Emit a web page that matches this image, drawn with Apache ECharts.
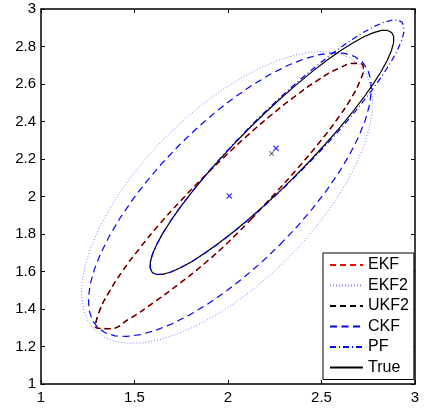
<!DOCTYPE html>
<html>
<head>
<meta charset="utf-8">
<script src="https://cdn.jsdelivr.net/npm/echarts@6/dist/echarts.min.js"></script>
<style>
  html, body { margin: 0; padding: 0; background: #fff; }
  #chart-container { width: 424px; height: 408px; }
</style>
</head>
<body>
<div id="chart-container"></div>
<script>
var dom = document.getElementById("chart-container");
var myChart = echarts.init(dom, null, { renderer: "canvas" });

// axis ranges / ticks
var xRange = [1, 3];
var xStep = 0.5;
var yRange = [1, 3];
var yStep = 0.2;

var legendNames = ["EKF", "EKF2", "UKF2", "CKF", "PF", "True"];

// contours, [x, y]
// EKF and UKF2 lie on top of each other
var ekfUkf2 = [
  [2.1225, 1.8775], [2.243, 2.007], [2.371, 2.149], [2.49, 2.29], [2.598, 2.432],
  [2.665, 2.535], [2.705, 2.615], [2.724, 2.683], [2.712, 2.708], [2.68, 2.71],
  [2.595, 2.685], [2.48, 2.62], [2.351, 2.529], [2.228, 2.432], [2.1045, 2.3255],
  [1.9845, 2.2155], [1.863, 2.097], [1.745, 1.975], [1.631, 1.849], [1.527, 1.723],
  [1.4325, 1.5975], [1.3625, 1.4875], [1.315, 1.395], [1.29, 1.305], [1.365, 1.295],
  [1.4725, 1.3475], [1.61, 1.44], [1.7425, 1.5375], [1.876, 1.644], [2.0025, 1.7575],
  [2.1225, 1.8775]
];

var ekf2 = [
  [2.32, 1.67], [2.4095, 1.7651], [2.492, 1.8642], [2.5661, 1.9655], [2.6303, 2.0673],
  [2.6836, 2.1678], [2.7251, 2.2655], [2.7542, 2.3584], [2.7702, 2.4452], [2.7731, 2.5243],
  [2.7625, 2.5943], [2.7388, 2.654], [2.7025, 2.7025], [2.654, 2.7388], [2.5943, 2.7625],
  [2.5243, 2.7731], [2.4452, 2.7702], [2.3584, 2.7542], [2.2655, 2.7251], [2.1678, 2.6836],
  [2.0673, 2.6303], [1.9655, 2.5661], [1.8642, 2.492], [1.7651, 2.4095], [1.67, 2.32],
  [1.5805, 2.2249], [1.498, 2.1258], [1.4239, 2.0245], [1.3597, 1.9227], [1.3064, 1.8222],
  [1.2649, 1.7245], [1.2358, 1.6316], [1.2198, 1.5448], [1.2169, 1.4657], [1.2275, 1.3957],
  [1.2512, 1.336], [1.2875, 1.2875], [1.336, 1.2512], [1.3957, 1.2275], [1.4657, 1.2169],
  [1.5448, 1.2198], [1.6316, 1.2358], [1.7245, 1.2649], [1.8222, 1.3064], [1.9227, 1.3597],
  [2.0245, 1.4239], [2.1258, 1.498], [2.2249, 1.5805], [2.32, 1.67]
];

var ckf = [
  [2.2775, 1.7425], [2.3676, 1.8372], [2.4516, 1.9348], [2.5281, 2.0339], [2.5957, 2.1323],
  [2.6532, 2.2288], [2.6998, 2.3214], [2.7346, 2.4088], [2.7569, 2.4893], [2.7665, 2.5617],
  [2.7631, 2.6247], [2.7468, 2.677], [2.718, 2.718], [2.677, 2.7468], [2.6247, 2.7631],
  [2.5617, 2.7665], [2.4893, 2.7569], [2.4088, 2.7346], [2.3214, 2.6998], [2.2288, 2.6532],
  [2.1323, 2.5957], [2.0339, 2.5281], [1.9348, 2.4516], [1.8372, 2.3676], [1.7425, 2.2775],
  [1.6524, 2.1828], [1.5684, 2.0852], [1.4919, 1.9861], [1.4243, 1.8877], [1.3668, 1.7912],
  [1.3202, 1.6986], [1.2854, 1.6112], [1.2631, 1.5307], [1.2535, 1.4583], [1.2569, 1.3953],
  [1.2732, 1.343], [1.302, 1.302], [1.343, 1.2732], [1.3953, 1.2569], [1.4583, 1.2535],
  [1.5307, 1.2631], [1.6112, 1.2854], [1.6986, 1.3202], [1.7912, 1.3668], [1.8877, 1.4243],
  [1.9861, 1.4919], [2.0852, 1.5684], [2.1828, 1.6524], [2.2775, 1.7425]
];

var pf = [
  [2.39, 2.135], [2.476, 2.2232], [2.5584, 2.312], [2.6358, 2.4002], [2.7067, 2.4859],
  [2.7701, 2.5677], [2.8247, 2.6443], [2.8697, 2.7145], [2.9044, 2.7768], [2.928, 2.8304],
  [2.9402, 2.8742], [2.9409, 2.9077], [2.93, 2.93], [2.9077, 2.9409], [2.8742, 2.9402],
  [2.8304, 2.928], [2.7768, 2.9044], [2.7145, 2.8697], [2.6443, 2.8247], [2.5677, 2.7701],
  [2.4859, 2.7067], [2.4002, 2.6358], [2.312, 2.5584], [2.2232, 2.476], [2.135, 2.39],
  [2.049, 2.3018], [1.9666, 2.213], [1.8892, 2.1248], [1.8183, 2.0391], [1.7549, 1.9573],
  [1.7003, 1.8807], [1.6553, 1.8105], [1.6206, 1.7482], [1.597, 1.6946], [1.5848, 1.6508],
  [1.5841, 1.6173], [1.595, 1.595], [1.6173, 1.5841], [1.6508, 1.5848], [1.6946, 1.597],
  [1.7482, 1.6206], [1.8105, 1.6553], [1.8807, 1.7003], [1.9573, 1.7549], [2.0391, 1.8183],
  [2.1248, 1.8892], [2.213, 1.9666], [2.3018, 2.049], [2.39, 2.135]
];

var trueCurve = [
  [2.36, 2.11], [2.4424, 2.1946], [2.5213, 2.2799], [2.5954, 2.3644], [2.6633, 2.4467],
  [2.7238, 2.5254], [2.7759, 2.5991], [2.8189, 2.6667], [2.8517, 2.7267], [2.8741, 2.7785],
  [2.8856, 2.8208], [2.8858, 2.8532], [2.875, 2.875], [2.8532, 2.8858], [2.8208, 2.8856],
  [2.7785, 2.8741], [2.7267, 2.8517], [2.6667, 2.8189], [2.5991, 2.7759], [2.5254, 2.7238],
  [2.4467, 2.6633], [2.3644, 2.5954], [2.2799, 2.5213], [2.1946, 2.4424], [2.11, 2.36],
  [2.0276, 2.2754], [1.9487, 2.1901], [1.8746, 2.1056], [1.8067, 2.0233], [1.7462, 1.9446],
  [1.6941, 1.8709], [1.6511, 1.8033], [1.6183, 1.7433], [1.5959, 1.6915], [1.5844, 1.6492],
  [1.5842, 1.6168], [1.595, 1.595], [1.6168, 1.5842], [1.6492, 1.5844], [1.6915, 1.5959],
  [1.7433, 1.6183], [1.8033, 1.6511], [1.8709, 1.6941], [1.9446, 1.7462], [2.0233, 1.8067],
  [2.1056, 1.8746], [2.1901, 1.9487], [2.2754, 2.0276], [2.36, 2.11]
];

// means
var circleMean = [[1.5, 1.5]];
var blueMeans = [[2.007, 2.003], [2.257, 2.257]];
var blackMeans = [[2.233, 2.23]];

var boldCross = "path://M0,1.5L1.5,0L5,3.5L8.5,0L10,1.5L6.5,5L10,8.5L8.5,10L5,6.5L1.5,10L0,8.5L3.5,5Z";
var thinCross = "path://M0,1L1,0L5,4L9,0L10,1L6,5L10,9L9,10L5,6L1,10L0,9L4,5Z";
var font = "Liberation Sans, Arial, sans-serif";

function curve(name, data, color, width, type, z, smooth) {
  return {
    name: name,
    type: "line",
    data: data,
    smooth: smooth,
    symbol: "none",
    z: z,
    lineStyle: { color: color, width: width, type: type },
    itemStyle: { color: color },
  };
}

function xAxisDef(pos, labels) {
  return {
    type: "value",
    position: pos,
    min: xRange[0],
    max: xRange[1],
    interval: xStep,
    axisLine: { show: true, onZero: false, lineStyle: { color: "#000", width: 1.5 } },
    axisTick: { show: true, inside: true, length: 4, lineStyle: { color: "#000" } },
    axisLabel: {
      show: labels,
      color: "#000",
      fontSize: 15,
      fontFamily: font,
      margin: 6,
    },
    splitLine: { show: false },
  };
}

function yAxisDef(pos, labels) {
  return {
    type: "value",
    position: pos,
    min: yRange[0],
    max: yRange[1],
    interval: yStep,
    axisLine: { show: true, onZero: false, lineStyle: { color: "#000", width: 1.5 } },
    axisTick: { show: true, inside: true, length: 4, lineStyle: { color: "#000" } },
    axisLabel: {
      show: labels,
      color: "#000",
      fontSize: 15,
      fontFamily: font,
      margin: 5,
    },
    splitLine: { show: false },
  };
}

var option = {
  animation: false,
  backgroundColor: "#fff",
  grid: { left: 41, right: 9, top: 9, bottom: 24 },
  xAxis: [xAxisDef("bottom", true), xAxisDef("top", false)],
  yAxis: [yAxisDef("left", true), yAxisDef("right", false)],
  legend: {
    data: legendNames,
    orient: "vertical",
    left: 323,
    top: 253,
    itemWidth: 33,
    itemHeight: 14,
    itemGap: 4.5,
    padding: [4, 5, 4, 6],
    backgroundColor: "#fff",
    borderColor: "#000",
    borderWidth: 1,
    borderRadius: 0,
    selectedMode: false,
    itemStyle: { opacity: 0 },
    textStyle: { color: "#000", fontSize: 16, fontFamily: font },
  },
  series: [
    curve("EKF", ekfUkf2, "#ff0000", 1.6, [6, 4], 2, 0.5),
    curve("EKF2", ekf2, "#7f7fff", 1, [1, 2], 2, false),
    curve("UKF2", ekfUkf2, "#000000", 1, [6, 4], 3, 0.5),
    curve("CKF", ckf, "#0000ff", 1.2, [7, 4.5], 2, false),
    curve("True", trueCurve, "#000000", 1.2, "solid", 3, false),
    curve("PF", pf, "#0000ff", 1.2, [6, 3, 1, 3], 4, false),
    {
      name: "mean0",
      type: "scatter",
      data: circleMean,
      symbol: "emptyCircle",
      symbolSize: 7,
      z: 5,
      itemStyle: { color: "#fff", borderColor: "#000", borderWidth: 1.3 },
    },
    {
      name: "meanBlue",
      type: "scatter",
      data: blueMeans,
      symbol: boldCross,
      symbolSize: 6,
      z: 5,
      itemStyle: { color: "#0000ff" },
    },
    {
      name: "meanBlack",
      type: "scatter",
      data: blackMeans,
      symbol: thinCross,
      symbolSize: 5,
      z: 5,
      itemStyle: { color: "#000" },
    },
  ],
};

myChart.setOption(option);
window.addEventListener("resize", myChart.resize);
</script>
</body>
</html>
